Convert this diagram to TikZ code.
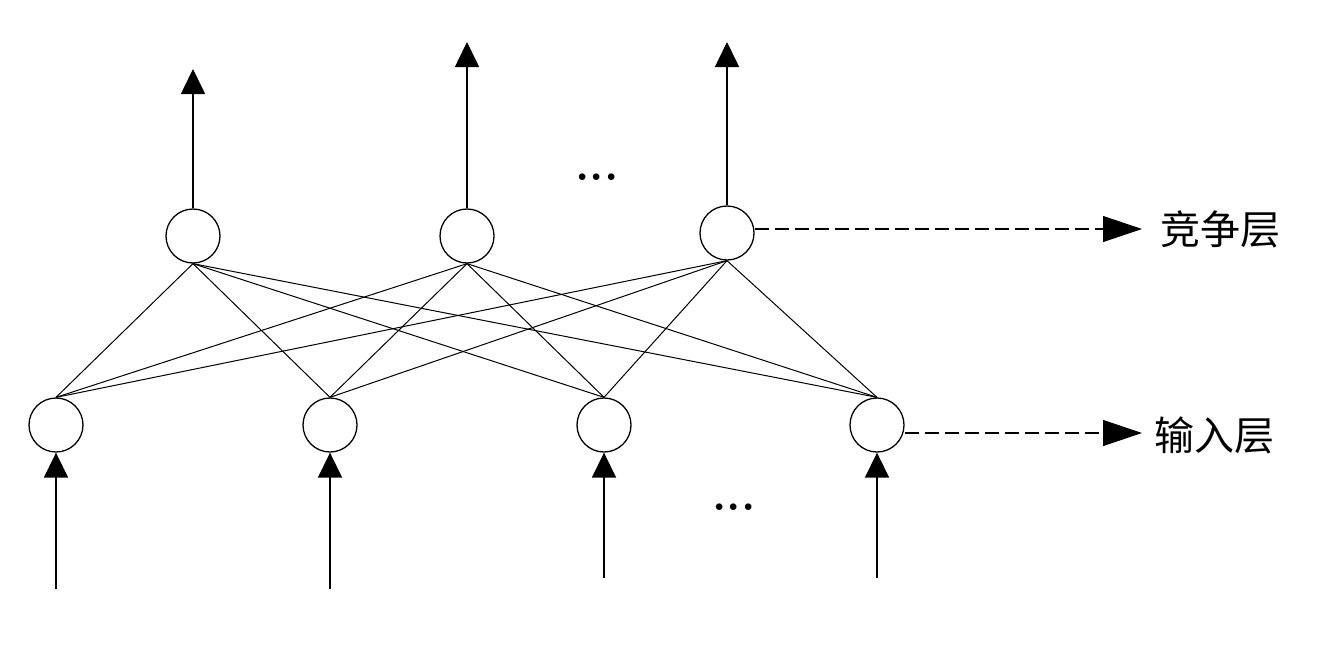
\documentclass[tikz,border=0pt]{standalone}
\usepackage{fontspec}
\newfontfamily\cjk{Noto Sans CJK SC}
\usetikzlibrary{arrows.meta}
\begin{document}
\begin{tikzpicture}[x=1pt,y=-1pt,
  neuron/.style={circle,draw,line width=1.3pt,minimum size=54pt,inner sep=0pt},
  link/.style={line width=1pt},
  solidarrow/.style={line width=1.6pt,-{Triangle[length=25pt,width=24pt]}},
  dasharrow/.style={line width=1.2pt,dash pattern=on 14pt off 6pt,-{Triangle[length=39pt,width=26pt]}},
  lab/.style={font=\cjk\fontsize{40}{40}\selectfont,anchor=west,inner sep=0pt},
  dotsstyle/.style={font=\bfseries\fontsize{46}{46}\selectfont,inner sep=0pt,anchor=base}]
\useasboundingbox (0,0) rectangle (1335,653);
% competitive layer
\node[neuron] (t1) at (193,236) {};
\node[neuron] (t2) at (467,236) {};
\node[neuron] (t3) at (727,233) {};
% input layer
\node[neuron] (b1) at (56,425) {};
\node[neuron] (b2) at (330,425) {};
\node[neuron] (b3) at (604,425) {};
\node[neuron] (b4) at (877,425) {};
% full connections
\foreach \t in {t1,t2,t3}{
  \foreach \b in {b1,b2,b3,b4}{
    \draw[link] (\t.south) -- (\b.north);
  }
}
% outputs
\coordinate (o1) at (193,69);
\coordinate (o2) at (467,42);
\coordinate (o3) at (727,42);
\draw[solidarrow] (t1.north) -- (o1);
\draw[solidarrow] (t2.north) -- (o2);
\draw[solidarrow] (t3.north) -- (o3);
% inputs
\coordinate (i1) at (56,589);
\coordinate (i2) at (330,589);
\coordinate (i3) at (604,578);
\coordinate (i4) at (877,578);
\draw[solidarrow] (i1) -- (b1.south);
\draw[solidarrow] (i2) -- (b2.south);
\draw[solidarrow] (i3) -- (b3.south);
\draw[solidarrow] (i4) -- (b4.south);
% labels
\node[lab] (l1) at (1160,229) {竞争层};
\node[lab] (l2) at (1154,435) {输入层};
\coordinate (a1) at (1142,229);
\coordinate (a2) at (1142,433);
\draw[dasharrow] (t3.east |- a1) -- (a1);
\draw[dasharrow] (b4.east |- a2) -- (a2);
% dots
\node[dotsstyle] (d1) at (597,180) {...};
\node[dotsstyle] (d2) at (734,510) {...};
\end{tikzpicture}
\end{document}
